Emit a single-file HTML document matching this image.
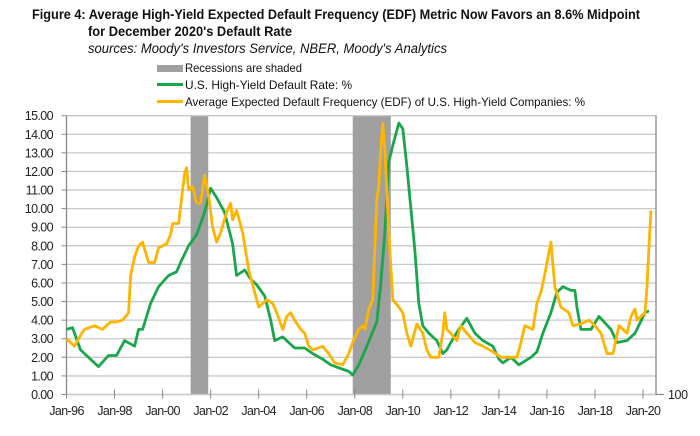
<!DOCTYPE html>
<html><head><meta charset="utf-8"><style>
body{margin:0;background:#fff;width:700px;height:431px;overflow:hidden;font-family:"Liberation Sans",sans-serif}
svg text{font-family:"Liberation Sans",sans-serif}
</style></head><body>
<svg id="chart" width="700" height="431">
<g font-weight="bold" font-size="14" fill="#111">
<text x="32" y="19" textLength="608" lengthAdjust="spacingAndGlyphs">Figure 4: Average High-Yield Expected Default Frequency (EDF) Metric Now Favors an 8.6% Midpoint</text>
<text x="88" y="36" textLength="204" lengthAdjust="spacingAndGlyphs">for December 2020's  Default Rate</text>
</g>
<text x="88" y="53" font-size="13.5" font-style="italic" fill="#111" textLength="359" lengthAdjust="spacingAndGlyphs">sources: Moody's Investors Service, NBER, Moody's Analytics</text>
<g font-size="12" fill="#111">
<rect x="157" y="65" width="26" height="7" fill="#a0a0a0"/>
<text x="185" y="72" textLength="117" lengthAdjust="spacingAndGlyphs">Recessions are shaded</text>
<rect x="157" y="83" width="26" height="3" fill="#1aa64a"/>
<text x="185" y="89" textLength="167" lengthAdjust="spacingAndGlyphs">U.S. High-Yield Default Rate: %</text>
<rect x="157" y="100" width="26" height="3" fill="#ffb400"/>
<text x="185" y="106" textLength="400" lengthAdjust="spacingAndGlyphs">Average Expected Default Frequency (EDF) of U.S. High-Yield Companies: %</text>
</g>
<g id="plot"></g>
</svg>
<script>
const greenMonths=[0,3,7,12,16,21,25,29,34,36,38,42,46,51,55,57,61,65,69,72,75,79,83,85,89,92,95,99,102,104,108,111,114,119,123,128,132,137,141,143,146,150,155,157,159,161,163,166,168,170,174,176,178,181,185,188,190,192,196,200,204,208,213,216,218,222,226,232,235,238,242,245,248,252,254,255,257,262,266,272,275,280,284,289,291];
const greenValues=[3.5,3.6,2.4,1.9,1.5,2.1,2.1,2.9,2.6,3.5,3.5,4.9,5.8,6.4,6.6,7.1,8.0,8.6,9.8,11.1,10.6,9.8,8.1,6.4,6.7,6.2,5.9,5.3,4.0,2.9,3.1,2.8,2.5,2.5,2.2,1.9,1.6,1.4,1.25,1.05,1.6,2.6,3.9,6.0,8.7,12.5,13.4,14.6,14.3,12.3,7.8,4.9,3.7,3.3,2.9,2.2,2.4,2.8,3.5,4.1,3.3,2.9,2.6,1.9,1.7,2.0,1.6,2.0,2.3,3.3,4.4,5.5,5.8,5.6,5.6,4.7,3.5,3.5,4.2,3.5,2.8,2.9,3.3,4.4,4.5];
const edfMonths=[0,4,6,9,14,18,22,25,28,31,32,34,36,38,41,44,46,50,52,53,56,59,60,61,63,65,67,69,71,73,75,77,80,82,83,85,88,91,94,96,100,103,105,108,110,112,114,117,119,121,123,128,131,134,138,141,143,146,148,149,151,153,155,156,157,158,159,161,163,166,168,170,172,175,178,180,182,186,188,189,190,192,195,197,200,204,208,213,217,222,225,227,229,233,235,237,239,242,244,247,251,253,257,261,264,267,270,273,276,280,282,284,285,289,290,291,292];
const edfValues=[3.0,2.6,3.0,3.5,3.7,3.5,3.9,3.9,4.0,4.4,6.4,7.4,8.0,8.2,7.1,7.1,7.9,8.1,8.6,9.2,9.2,11.9,12.2,11.0,11.2,10.3,10.3,11.8,10.7,9.0,8.2,8.7,9.8,10.3,9.4,9.9,8.7,6.7,5.5,4.7,5.1,4.9,4.4,3.5,4.2,4.4,4.0,3.5,3.3,2.6,2.4,2.6,2.2,1.7,1.6,2.2,2.8,3.5,3.7,3.5,4.6,5.1,10.5,11.2,13.2,14.6,13.2,8.7,5.1,4.7,4.4,3.3,2.6,3.8,3.3,2.4,2.0,2.0,3.3,4.4,3.5,3.3,2.9,3.7,3.3,2.8,2.6,2.3,2.0,2.0,2.0,2.8,3.7,3.5,4.9,5.5,6.5,8.2,5.8,4.7,4.4,3.7,3.8,4.0,3.7,3.3,2.2,2.2,3.7,3.3,4.2,4.6,4.0,4.4,5.8,8.0,9.9];
const recessionStarts=[62,143];
const recessionEnds=[70.8,162];
const yTicks=[0,1,2,3,4,5,6,7,8,9,10,11,12,13,14,15];
const xTickMonths=[0,24,48,72,96,120,144,168,192,216,240,264,288];
const xTickLabels=["Jan-96","Jan-98","Jan-00","Jan-02","Jan-04","Jan-06","Jan-08","Jan-10","Jan-12","Jan-14","Jan-16","Jan-18","Jan-20"];

const X0=66.5,XK=(643-66.5)/288,Y0=394.5,YK=(394.5-115.7)/15,XR=656;
const xs=m=>X0+m*XK, ys=v=>Y0-v*YK;
const NS="http://www.w3.org/2000/svg";
const plot=document.getElementById('plot');
function mk(tag,attrs,parent){const e=document.createElementNS(NS,tag);for(const k in attrs)e.setAttribute(k,attrs[k]);(parent||plot).appendChild(e);return e;}

yTicks.forEach(v=>{
  const g=mk('line',{x1:X0,x2:XR,y1:ys(v),y2:ys(v),stroke:v===0?'#888':'#c8c8c8','stroke-width':1.3});
  
  
  const tk=mk('line',{x1:X0-5,x2:X0,y1:ys(v),y2:ys(v),stroke:'#888'});
  
  
  const t=mk('text',{x:53,y:ys(v)+4.5,'text-anchor':'end','font-size':12.5,fill:'#222','letter-spacing':'-0.6'});
  t.textContent=v.toFixed(2);
  
  
});
recessionStarts.forEach((s,i)=>{
  const r=mk('rect',{x:xs(s),y:ys(15),width:xs(recessionEnds[i])-xs(s),height:ys(0)-ys(15),fill:'#a0a0a0'});
  
  
});
const b=mk('rect',{x:X0,y:ys(15),width:XR-X0,height:ys(0)-ys(15),fill:'none',stroke:'#c8c8c8','stroke-width':1.3});


const ya=mk('line',{x1:X0,x2:X0,y1:ys(15),y2:ys(0),stroke:'#888','stroke-width':1.2});


const ra=mk('line',{x1:XR,x2:XR,y1:ys(15),y2:ys(0),stroke:'#888','stroke-width':1.2});


const rt=mk('line',{x1:XR,x2:XR+8,y1:ys(0),y2:ys(0),stroke:'#888','stroke-width':1.2});


xTickMonths.forEach((m,i)=>{
  const l=mk('line',{x1:xs(m),x2:xs(m),y1:ys(0)-5,y2:ys(0)+4,stroke:'#888'});
  
  
  const t=mk('text',{x:xs(m),y:415,'text-anchor':'middle','font-size':12.5,fill:'#222','letter-spacing':'-0.6'});
  t.textContent=xTickLabels[i];
  
  
});
const t100=mk('text',{x:668,y:399,'font-size':12.5,fill:'#222','letter-spacing':'-0.4'});
t100.textContent='100';


function line(ms,vs,color,name){
  const d=ms.map((m,i)=>(i?'L':'M')+xs(m).toFixed(1)+','+ys(vs[i]).toFixed(1)).join('');
  const p=mk('path',{d:d,fill:'none',stroke:color,'stroke-width':2.8,'stroke-linejoin':'round'});
  
  
}
line(greenMonths,greenValues,'#1aa64a','default-rate-line');
line(edfMonths,edfValues,'#ffb400','edf-line');
</script>
</body></html>
